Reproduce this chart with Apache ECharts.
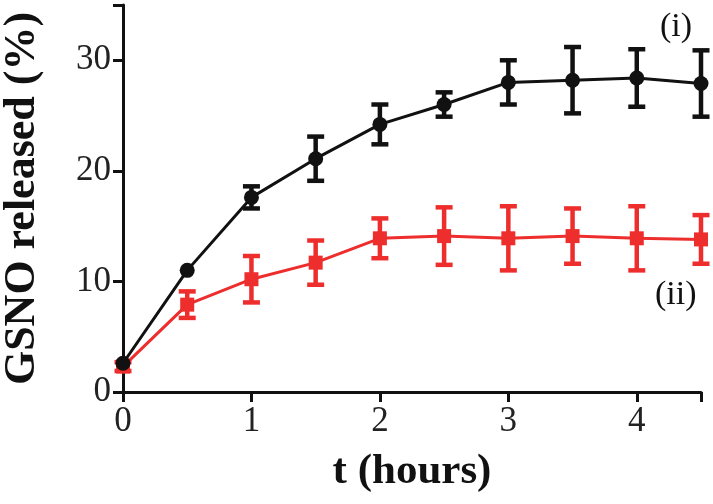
<!DOCTYPE html>
<html>
<head>
<meta charset="utf-8">
<script src="https://cdn.jsdelivr.net/npm/echarts@6/dist/echarts.min.js"></script>
<style>
  html, body { margin: 0; padding: 0; background: #fff; }
  #chart { width: 713px; height: 504px; }
</style>
</head>
<body>
<div id="chart"></div>
<script>
// time points (hours)
const hours = [0, 0.5, 1, 1.5, 2, 2.5, 3, 3.5, 4, 4.5];
// (i) released %, with error
const seriesI = [2.6, 11.0, 17.6, 21.1, 24.2, 26.0, 28.0, 28.2, 28.4, 27.9];
const errI = [0, 0, 1.0, 2.0, 1.8, 1.1, 2.0, 3.0, 2.6, 3.0];
// (ii) released %, with error
const seriesII = [2.3, 7.9, 10.2, 11.7, 13.9, 14.1, 13.9, 14.1, 13.9, 13.8];
const errII = [0.4, 1.2, 2.1, 2.0, 1.8, 2.6, 2.9, 2.5, 2.9, 2.2];
const xTicks = [0, 1, 2, 3, 4];
const yTicks = [0, 10, 20, 30];

const serif = "'Liberation Serif', 'Times New Roman', serif";
const black = "#111111";
const red = "#ee2d2d";

function pairs(y) {
  return hours.map((h, i) => [h, y[i]]);
}
function errData(y, e) {
  return hours.map((h, i) => [h, y[i] - e[i], y[i] + e[i]]);
}

// error bar drawn via axis coordinates
function errorBar(color) {
  return function (params, api) {
    if (api.value(2) - api.value(1) <= 0) return null;
    const lo = api.coord([api.value(0), api.value(1)]);
    const hi = api.coord([api.value(0), api.value(2)]);
    const cap = 8.5;
    const style = { stroke: color, lineWidth: 4.5 };
    return {
      type: "group",
      children: [
        { type: "line", shape: { x1: lo[0], y1: lo[1], x2: hi[0], y2: hi[1] }, style: style },
        { type: "line", shape: { x1: lo[0] - cap, y1: lo[1], x2: lo[0] + cap, y2: lo[1] }, style: style },
        { type: "line", shape: { x1: hi[0] - cap, y1: hi[1], x2: hi[0] + cap, y2: hi[1] }, style: style }
      ]
    };
  };
}

const chart = echarts.init(document.getElementById("chart"));

const option = {
  animation: false,
  grid: { left: 123, right: 12, top: 5, bottom: 112, outerBoundsMode: "none" },
  xAxis: {
    type: "value",
    min: 0,
    max: 4.5,
    interval: 1,
    name: "t (hours)",
    nameLocation: "middle",
    nameGap: 58,
    nameTextStyle: { fontFamily: serif, fontWeight: "bold", fontSize: 43, color: black },
    axisLine: { lineStyle: { color: black, width: 3 } },
    axisTick: { length: 10, lineStyle: { color: black, width: 3 } },
    axisLabel: {
      fontFamily: serif, fontSize: 35, color: "#222", margin: 12,
      formatter: v => (xTicks.indexOf(v) >= 0 ? String(v) : "")
    },
    splitLine: { show: false }
  },
  yAxis: {
    type: "value",
    min: 0,
    max: 35,
    interval: 10,
    name: "GSNO released (%)",
    nameLocation: "middle",
    nameGap: 78,
    nameTextStyle: { fontFamily: serif, fontWeight: "bold", fontSize: 44, color: black },
    axisLine: { lineStyle: { color: black, width: 3 } },
    axisTick: { length: 10, lineStyle: { color: black, width: 3 } },
    axisLabel: {
      fontFamily: serif, fontSize: 35, color: "#222", margin: 12,
      formatter: v => (yTicks.indexOf(v) >= 0 ? String(v) : "")
    },
    splitLine: { show: false }
  },
  graphic: [
    { type: "text", left: 660, top: 10, style: { text: "(i)", font: "34px " + serif, fill: black } },
    { type: "text", left: 655, top: 278, style: { text: "(ii)", font: "34px " + serif, fill: black } }
  ],
  series: [
    {
      type: "custom",
      renderItem: errorBar(red),
      data: errData(seriesII, errII),
      encode: { x: 0, y: [1, 2] },
      z: 2
    },
    {
      type: "line",
      data: pairs(seriesII),
      symbol: "rect",
      symbolSize: 14,
      itemStyle: { color: red },
      lineStyle: { color: red, width: 3 },
      z: 3
    },
    {
      type: "custom",
      renderItem: errorBar(black),
      data: errData(seriesI, errI),
      encode: { x: 0, y: [1, 2] },
      z: 4
    },
    {
      type: "line",
      data: pairs(seriesI),
      symbol: "circle",
      symbolSize: 15,
      itemStyle: { color: black },
      lineStyle: { color: black, width: 3 },
      z: 5
    }
  ]
};

chart.setOption(option);
</script>
</body>
</html>
